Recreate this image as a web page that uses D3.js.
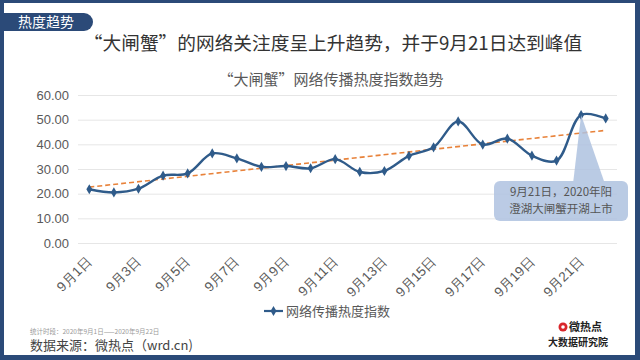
<!DOCTYPE html>
<html><head><meta charset="utf-8">
<script src="https://cdn.jsdelivr.net/npm/d3@7"></script>
<style>
html,body{margin:0;padding:0;background:#fff;}
svg{display:block;font-family:"Noto Sans CJK SC","Noto Sans",sans-serif;}
</style></head>
<body>
<svg id="c" width="640" height="360"></svg>
<script>
const days = ["9月1日","9月2日","9月3日","9月4日","9月5日","9月6日","9月7日","9月8日","9月9日","9月10日","9月11日","9月12日","9月13日","9月14日","9月15日","9月16日","9月17日","9月18日","9月19日","9月20日","9月21日","9月22日"];
const heatIndex = [21.8,20.5,22.0,27.3,28.2,36.3,34.3,30.9,31.2,30.3,34.0,28.8,29.2,35.3,38.8,49.3,39.9,42.3,35.4,33.4,51.9,50.5];
const yTicks = [0,10,20,30,40,50,60];
const tagText = "热度趋势";
const mainTitle = "“大闸蟹”的网络关注度呈上升趋势，并于9月21日达到峰值";
const chartTitle = "“大闸蟹”网络传播热度指数趋势";
const seriesName = "网络传播热度指数";
const calloutLines = ["9月21日，2020年阳","澄湖大闸蟹开湖上市"];
const calloutDay = "9月21日";
const periodNote = "统计时段：2020年9月1日——2020年9月22日";
const sourceNote = "数据来源：微热点（wrd.cn)";

const svg = d3.select("#c");
const frame = "#2B4A78";
const lineColor = "#2F5B8A";

// frame
svg.append("rect").attr("x",0).attr("y",0).attr("width",640).attr("height",360).attr("fill",frame);
svg.append("rect").attr("x",4).attr("y",3).attr("width",631).attr("height",352).attr("fill","#fff");

// tag
svg.append("path").attr("d","M0,13 H84 A9,9 0 0 1 84,31 H0 Z").attr("fill",frame);
svg.append("text").attr("x",18).attr("y",27).attr("fill","#fff").attr("font-size",14).text(tagText);

// main title
svg.append("text").attr("x",333).attr("y",50).attr("text-anchor","middle").attr("fill","#333").attr("font-size",18.7).text(mainTitle);
// chart title
svg.append("text").attr("x",331).attr("y",85).attr("text-anchor","middle").attr("fill","#595959").attr("font-size",15).text(chartTitle);

const x = d3.scalePoint().domain(days).range([77,618]).padding(0.5);
const y = d3.scaleLinear().domain([0,60]).range([243,95]);

// grid
const yAxis = d3.axisLeft(y).tickValues(yTicks).tickSize(-(617-78)).tickFormat(d3.format(".2f"));
const gy = svg.append("g").attr("transform","translate(78,0)").call(yAxis);
gy.select(".domain").remove();
gy.selectAll(".tick line").attr("stroke","#e6e6e6").attr("stroke-width",1);
gy.selectAll(".tick text").attr("x",-9).attr("fill","#595959").attr("font-size",13).attr("font-family","'Liberation Sans',Arial,sans-serif");

// x labels
const xAxis = d3.axisBottom(x).tickValues(days.filter((d,i)=>i%2===0)).tickSize(0);
const gx = svg.append("g").attr("transform","translate(0,243)").call(xAxis);
gx.select(".domain").remove();
gx.selectAll(".tick text").attr("fill","#595959").attr("font-size",13.5)
  .attr("text-anchor","end").attr("dy",0).attr("y",0)
  .attr("transform","translate(3,19) rotate(-45)");

// trendline (linear regression)
const n = heatIndex.length;
const xs = d3.range(1,n+1);
const mx = d3.mean(xs), my = d3.mean(heatIndex);
const slope = d3.sum(xs.map((v,i)=>(v-mx)*(heatIndex[i]-my)))/d3.sum(xs.map(v=>(v-mx)*(v-mx)));
const icpt = my - slope*mx;
svg.append("line")
  .attr("x1",x(days[0])).attr("y1",y(icpt+slope*1))
  .attr("x2",x(days[n-1])).attr("y2",y(icpt+slope*n))
  .attr("stroke","#E8823A").attr("stroke-width",1.6).attr("stroke-dasharray","5,3");

// series line
const line = d3.line().x((d,i)=>x(days[i])).y(d=>y(d)).curve(d3.curveCatmullRom.alpha(0.5));
svg.append("path").datum(heatIndex).attr("d",line).attr("fill","none").attr("stroke",lineColor).attr("stroke-width",2.4);
const diamond = d3.symbol().type(d3.symbolDiamond).size(30);
svg.append("g").selectAll("path").data(heatIndex).join("path")
  .attr("d",diamond).attr("transform",(d,i)=>`translate(${x(days[i])},${y(d)})`).attr("fill",lineColor);

// callout
const px = x(calloutDay), py = y(heatIndex[days.indexOf(calloutDay)]);
const cg = svg.append("g").attr("opacity",0.85);
cg.append("path").attr("d",`M${px},${py} L573,184 L605,184 Z`).attr("fill","#AFC2E0");
cg.append("rect").attr("x",494).attr("y",181).attr("width",134).attr("height",40).attr("rx",6).attr("fill","#AFC2E0");
calloutLines.forEach((t,i)=>{
  svg.append("text").attr("x",561).attr("y",196+i*17).attr("text-anchor","middle").attr("fill","#555").attr("font-size",11.5).text(t);
});

// legend
const lg = svg.append("g");
lg.append("line").attr("x1",264).attr("x2",283).attr("y1",311).attr("y2",311).attr("stroke",lineColor).attr("stroke-width",2.2);
lg.append("path").attr("d",diamond).attr("transform","translate(273.5,311)").attr("fill",lineColor);
lg.append("text").attr("x",286).attr("y",316).attr("fill","#595959").attr("font-size",13).text(seriesName);

// footer
svg.append("text").attr("x",30).attr("y",334).attr("fill","#9a9a9a").attr("font-size",6.5).text(periodNote);
svg.append("text").attr("x",30).attr("y",350).attr("fill","#444").attr("font-size",13).text(sourceNote);

// logo
svg.append("circle").attr("cx",563).attr("cy",327).attr("r",4.5).attr("fill","#D9262B");
svg.append("circle").attr("cx",563).attr("cy",327).attr("r",1.8).attr("fill","#fff");
svg.append("text").attr("x",569).attr("y",331).attr("fill","#222").attr("font-size",11).attr("font-weight","bold").text("微热点");
svg.append("text").attr("x",548).attr("y",346).attr("fill","#222").attr("font-size",10).attr("font-weight","bold").text("大数据研究院");
</script>
</body></html>
